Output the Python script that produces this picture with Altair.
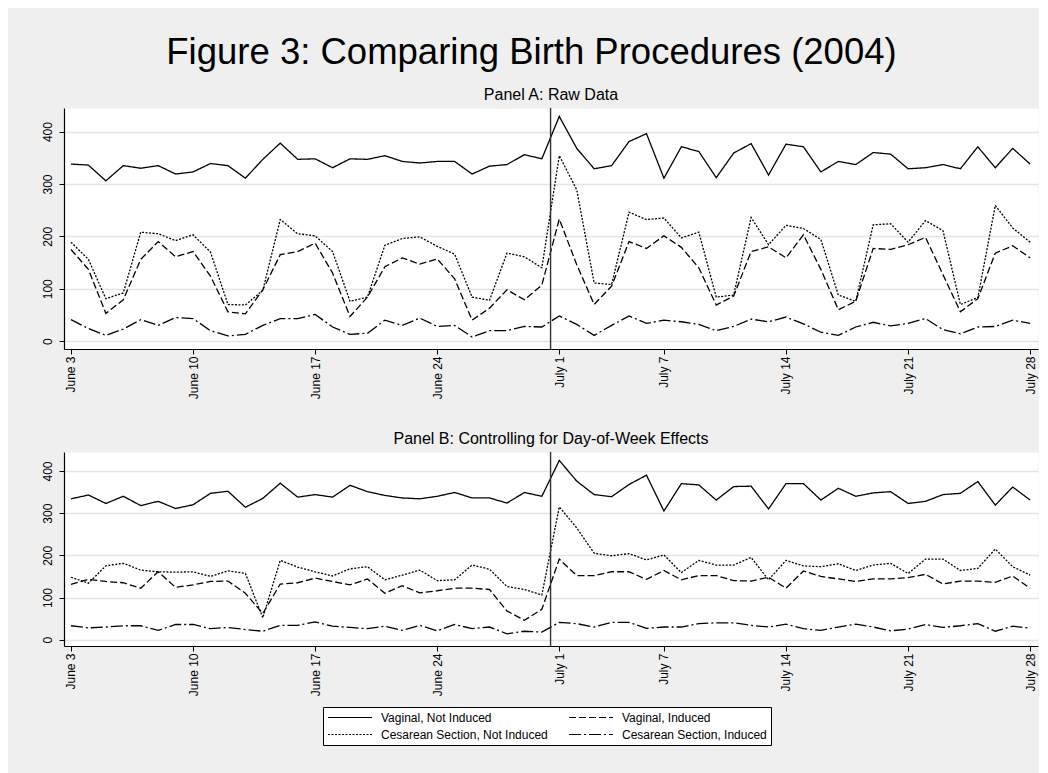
import altair as alt
import pandas as pd

FONT = "Liberation Sans"

SERIES = ["Vaginal, Not Induced", "Vaginal, Induced",
          "Cesarean Section, Not Induced", "Cesarean Section, Induced"]
DASHES = [[1, 0], [7, 3], [2, 1.5], [12, 3, 2, 3]]

TICK_DAYS = [0, 7, 14, 21, 28, 34, 41, 48, 55]
TICK_LABELS = ["June 3", "June 10", "June 17", "June 24", "July 1",
               "July 7", "July 14", "July 21", "July 28"]
CUTOFF_DAY = [27.5]
Y_TICKS = [0, 100, 200, 300, 400]

# Panel A: raw data (days since June 3, 2004)
A_VAG_NOT = [338, 336, 306, 335, 330, 335, 319, 323, 339, 335, 311, 347, 378, 347, 348, 331, 348,
             347, 354, 343, 340, 343, 343, 319, 334, 337, 356, 348, 429, 368, 329, 335, 381, 396, 311, 371,
             362, 312, 359, 377, 317, 376, 371, 323, 343, 337, 360, 357, 329, 331, 337, 329, 371, 331, 368, 338]
A_VAG_IND = [175, 137, 53, 79, 156, 190, 161, 171, 124, 56, 52, 98, 165, 171, 187, 130, 47,
             84, 142, 159, 147, 157, 119, 40, 63, 98, 79, 107, 233, 146, 70, 105, 190, 177, 201, 179,
             140, 69, 86, 171, 180, 159, 203, 137, 60, 76, 177, 175, 184, 198, 127, 56, 81, 168, 182, 159]
A_CES_NOT = [189, 156, 81, 92, 208, 205, 192, 203, 170, 70, 69, 97, 232, 205, 201, 171, 76,
             84, 183, 196, 199, 181, 166, 84, 78, 168, 161, 140, 354, 289, 111, 108, 246, 232, 235, 197,
             208, 84, 88, 236, 184, 221, 215, 194, 88, 76, 222, 224, 189, 230, 211, 70, 83, 259, 216, 189]
A_CES_IND = [41, 24, 11, 23, 41, 30, 45, 43, 20, 10, 13, 30, 43, 43, 51, 27, 13,
             15, 40, 30, 44, 28, 30, 8, 20, 20, 28, 27, 48, 32, 11, 30, 48, 34, 40, 37,
             32, 20, 28, 42, 37, 46, 33, 17, 11, 27, 36, 29, 34, 43, 22, 14, 27, 28, 40, 34]

# Panel B: controlling for day-of-week effects
B_VAG_NOT = [334, 343, 323, 340, 318, 328, 311, 320, 347, 352, 314, 335, 371, 338, 344, 338, 366,
             351, 342, 336, 334, 340, 349, 336, 336, 324, 349, 340, 425, 376, 344, 339, 368, 390, 305, 370,
             367, 331, 363, 364, 310, 370, 370, 331, 359, 340, 348, 351, 323, 328, 344, 347, 375, 319, 362, 331]
B_VAG_IND = [131, 143, 138, 135, 122, 161, 124, 130, 138, 139, 110, 62, 132, 135, 146, 138, 130,
             144, 110, 128, 111, 116, 122, 122, 119, 68, 46, 72, 191, 152, 152, 161, 161, 143, 164, 142,
             152, 152, 140, 139, 148, 122, 163, 150, 144, 138, 144, 144, 147, 155, 132, 139, 139, 136, 151, 122]
B_CES_NOT = [148, 134, 175, 181, 165, 161, 160, 161, 150, 163, 157, 52, 188, 172, 161, 151, 168,
             173, 142, 153, 165, 140, 142, 177, 167, 126, 119, 106, 315, 265, 205, 199, 204, 189, 201, 159,
             188, 177, 177, 195, 142, 188, 175, 173, 180, 164, 177, 181, 157, 191, 191, 164, 169, 215, 173, 153]
B_CES_IND = [33, 28, 30, 33, 33, 22, 36, 36, 26, 29, 24, 20, 34, 34, 42, 32, 29,
             26, 32, 22, 34, 21, 36, 26, 30, 14, 20, 18, 41, 38, 30, 41, 41, 27, 30, 30,
             38, 40, 40, 34, 30, 37, 26, 22, 30, 37, 30, 21, 25, 36, 29, 33, 38, 20, 32, 27]


def long_frame(series_values):
    rows = []
    for name, vals in zip(SERIES, series_values):
        for d, v in enumerate(vals):
            rows.append({"day": d, "value": v, "series": name})
    return pd.DataFrame(rows)


df_a = long_frame([A_VAG_NOT, A_VAG_IND, A_CES_NOT, A_CES_IND])
df_b = long_frame([B_VAG_NOT, B_VAG_IND, B_CES_NOT, B_CES_IND])
df_cut = pd.DataFrame({"day": CUTOFF_DAY})

label_expr = " : ".join(
    f"datum.value == {d} ? '{lab}'" for d, lab in zip(TICK_DAYS, TICK_LABELS)
) + " : ''"

x_scale = alt.Scale(domain=[-0.4, 55.45], nice=False, zero=False)
y_scale = alt.Scale(domain=[-15, 445], nice=False, zero=False)

x_axis = alt.Axis(values=TICK_DAYS, labelExpr=label_expr, title=None, grid=False,
                  labelAngle=270, labelAlign="right", labelBaseline="middle",
                  labelPadding=2, tickSize=5, labelFontSize=12)
y_axis = alt.Axis(values=Y_TICKS, title=None, grid=True, gridColor="#e4e4e4", gridWidth=1.5,
                  labelAngle=270, labelAlign="center", labelBaseline="bottom",
                  labelPadding=5, tickSize=5, labelFontSize=12)

legend = alt.Legend(title=None, orient="none", legendX=259, legendY=599, columns=2,
                    direction="horizontal", clipHeight=13,
                    symbolType="stroke", symbolSize=1936, symbolStrokeWidth=1.2,
                    symbolStrokeColor="black", labelFontSize=12, labelFont=FONT,
                    labelColor="black", labelOffset=8, columnPadding=20, rowPadding=4,
                    padding=4, strokeColor="black", fillColor="white", labelLimit=400)


def panel(df, title, height):
    lines = alt.Chart(df).mark_line(color="black", strokeWidth=1.3).encode(
        x=alt.X("day:Q", scale=x_scale, axis=x_axis),
        y=alt.Y("value:Q", scale=y_scale, axis=y_axis),
        strokeDash=alt.StrokeDash("series:N",
                                  scale=alt.Scale(domain=SERIES, range=DASHES),
                                  legend=legend),
    )
    rule = alt.Chart(df_cut).mark_rule(color="#333333", strokeWidth=1.4).encode(
        x=alt.X("day:Q", scale=x_scale, axis=x_axis)
    )
    return alt.layer(lines, rule).properties(
        width=974, height=height,
        title=alt.TitleParams(title, fontSize=16, fontWeight="normal", font=FONT,
                              color="black", anchor="middle", frame="group", offset=4),
    )


chart = alt.vconcat(
    panel(df_a, "Panel A: Raw Data", 241),
    panel(df_b, "Panel B: Controlling for Day-of-Week Effects", 194),
    spacing=30,
).resolve_scale(strokeDash="shared").properties(
    title=alt.TitleParams("Figure 3: Comparing Birth Procedures (2004)", fontSize=36.5,
                          fontWeight="normal", font=FONT, color="black",
                          anchor="middle", offset=15, dx=-8),
).configure(
    background="#efefef", font=FONT,
    padding={"left": 32, "right": 0, "top": 27, "bottom": 36},
).configure_view(
    fill="white", stroke="transparent"
).configure_axis(
    domainColor="black", domainWidth=1.2, tickColor="black", tickWidth=1,
    labelColor="black", labelFont=FONT
)

chart.save("out.html", embed_options={"renderer": "svg", "actions": False})
